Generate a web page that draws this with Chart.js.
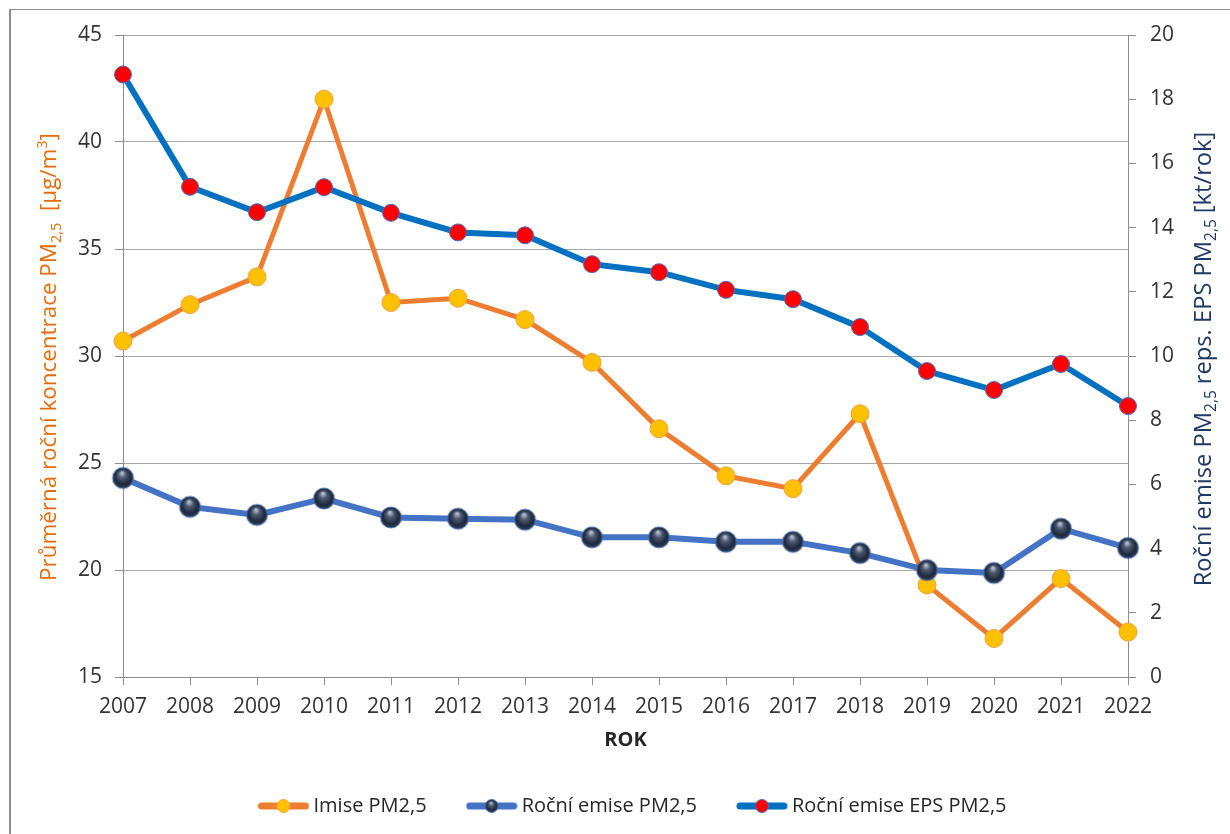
<!DOCTYPE html>
<html lang="cs">
<head>
<meta charset="utf-8">
<title>PM2,5 – imise a emise</title>
<script src="https://cdn.jsdelivr.net/npm/chart.js@4"></script>
<style>
  html, body { margin: 0; padding: 0; background: #fff; }
  #wrap { position: relative; width: 1230px; height: 834px; overflow: hidden; }
  #frame {
    position: absolute; left: 9px; top: 9px; right: -2px; bottom: -2px;
    border-left: 2px solid #8c8c8c; border-top: 1px solid #8c8c8c;
    pointer-events: none;
  }
  canvas { position: absolute; left: 0; top: 0; }
</style>
</head>
<body>
<div id="wrap">
  <canvas id="pmChart" width="1230" height="834"></canvas>
  <div id="frame"></div>
</div>
<script>
const years = ['2007', '2008', '2009', '2010', '2011', '2012', '2013', '2014',
               '2015', '2016', '2017', '2018', '2019', '2020', '2021', '2022'];

// µg/m3, left axis
const imisePM25 = [30.7, 32.4, 33.7, 42.0, 32.5, 32.7, 31.7, 29.7,
                   26.6, 24.4, 23.8, 27.3, 19.3, 16.8, 19.6, 17.1];
// kt/rok, right axis
const emisePM25 = [6.2, 5.3, 5.05, 5.56, 4.97, 4.93, 4.9, 4.35,
                   4.35, 4.21, 4.21, 3.86, 3.33, 3.24, 4.62, 4.02];
const emiseEPS = [18.77, 15.27, 14.48, 15.26, 14.46, 13.85, 13.76, 12.86,
                  12.61, 12.06, 11.77, 10.9, 9.53, 8.94, 9.75, 8.44];

const leftRange = [15, 45, 5];
const rightRange = [0, 20, 2];

const seriesNames = ['Imise PM2,5', 'Roční emise PM2,5', 'Roční emise EPS PM2,5'];

const leftTitle = [['Průměrná roční koncentrace PM', ''], ['2,5', 'sub'], ['  [µg/m', ''], ['3', 'sup'], [']', '']];
const rightTitle = [['Roční emise PM', ''], ['2,5', 'sub'], [' reps. EPS PM', ''], ['2,5', 'sub'], [' [kt/rok]', '']];

Chart.defaults.font.family = '"Open Sans", sans-serif';

// dark glossy ball used as marker for yearly emissions
function drawBall(g, x, y, r) {
  const grad = g.createRadialGradient(x - r * 0.1, y - r * 0.5, r * 0.08, x, y, r);
  grad.addColorStop(0, '#b4bfcf');
  grad.addColorStop(0.3, '#4d5b73');
  grad.addColorStop(0.75, '#1e283a');
  grad.addColorStop(1, '#2f4263');
  g.beginPath();
  g.arc(x, y, r, 0, Math.PI * 2);
  g.fillStyle = grad;
  g.fill();
  g.lineWidth = 1;
  g.strokeStyle = '#4f74b5';
  g.stroke();
}

function makeBall(r) {
  const c = document.createElement('canvas');
  const size = Math.ceil(r * 2 + 4);
  c.width = size;
  c.height = size;
  drawBall(c.getContext('2d'), size / 2, size / 2, r);
  return c;
}

function makeLegendIcon(lineColor, marker) {
  const c = document.createElement('canvas');
  c.width = 52;
  c.height = 16;
  const g = c.getContext('2d');
  g.strokeStyle = lineColor;
  g.lineWidth = 7;
  g.lineCap = 'round';
  g.beginPath();
  g.moveTo(4, 8);
  g.lineTo(48, 8);
  g.stroke();
  marker(g, 26, 8);
  return c;
}

function dot(fill, stroke) {
  return (g, x, y) => {
    g.beginPath();
    g.arc(x, y, 6.5, 0, Math.PI * 2);
    g.fillStyle = fill;
    g.fill();
    g.lineWidth = 1;
    g.strokeStyle = stroke;
    g.stroke();
  };
}

const ball = makeBall(10.5);
const legendIcons = [
  makeLegendIcon('#ED7D31', dot('#FFC000', '#F0A040')),
  makeLegendIcon('#4472C4', (g, x, y) => drawBall(g, x, y, 6.5)),
  makeLegendIcon('#0070C0', dot('#FF0000', '#4472C4'))
];

// text with sub/superscripts, rotated to read bottom-up, sized to a given length
function drawRotated(ctx, parts, cx, cy, color, length) {
  const measure = size => {
    let total = 0;
    const widths = parts.map(([t, k]) => {
      ctx.font = '500 ' + (k ? size * 0.65 : size) + 'px "Open Sans"';
      const w = ctx.measureText(t).width;
      total += w;
      return w;
    });
    return { total, widths };
  };
  ctx.save();
  const size = 20 * length / measure(20).total;
  const { total, widths } = measure(size);
  ctx.translate(cx, cy);
  ctx.rotate(-Math.PI / 2);
  ctx.fillStyle = color;
  ctx.textAlign = 'left';
  ctx.textBaseline = 'alphabetic';
  let x = -total / 2;
  const base = size * 0.36;
  parts.forEach(([t, k], i) => {
    ctx.font = '500 ' + (k ? size * 0.65 : size) + 'px "Open Sans"';
    const dy = k === 'sub' ? size * 0.22 : k === 'sup' ? -size * 0.42 : 0;
    ctx.fillText(t, x, base + dy);
    x += widths[i];
  });
  ctx.restore();
}

const axisTitles = {
  id: 'axisTitles',
  afterDraw(chart) {
    const ctx = chart.ctx;
    const a = chart.chartArea;
    drawRotated(ctx, leftTitle, 48, 357, '#E46C0A', 448);
    drawRotated(ctx, rightTitle, 1202, 359, '#1F3864', 455);
    ctx.save();
    ctx.font = 'bold 20px "Open Sans"';
    ctx.fillStyle = '#262626';
    ctx.textAlign = 'center';
    ctx.textBaseline = 'middle';
    ctx.fillText('ROK', (a.left + a.right) / 2, 740);
    ctx.restore();
  }
};

const axisLine = '#8c8c8c';
const tickFont = { size: 21 };

const ctx = document.getElementById('pmChart').getContext('2d');
const chart = new Chart(ctx, {
    type: 'line',
    data: {
        labels: years,
        datasets: [{
            label: seriesNames[0],
            data: imisePM25,
            yAxisID: 'y',
            borderColor: '#ED7D31',
            borderWidth: 5,
            pointRadius: 9,
            pointBackgroundColor: '#FFC000',
            pointBorderColor: '#F0A040',
            pointBorderWidth: 1,
            clip: false,
            order: 3
        }, {
            label: seriesNames[1],
            data: emisePM25,
            yAxisID: 'y1',
            borderColor: '#4472C4',
            borderWidth: 6,
            pointStyle: ball,
            pointRadius: 11,
            clip: false,
            order: 2
        }, {
            label: seriesNames[2],
            data: emiseEPS,
            yAxisID: 'y1',
            borderColor: '#0070C0',
            borderWidth: 6,
            pointRadius: 8.5,
            pointBackgroundColor: '#FF0000',
            pointBorderColor: '#4472C4',
            pointBorderWidth: 1,
            clip: false,
            order: 1
        }]
    },
    options: {
        responsive: false,
        animation: false,
        devicePixelRatio: 1,
        layout: { padding: { top: 35, left: 40, right: 0, bottom: 8 } },
        plugins: {
            tooltip: { enabled: false },
            legend: {
                position: 'bottom',
                labels: {
                    font: { size: 20 },
                    color: '#262626',
                    usePointStyle: true,
                    pointStyleWidth: 40,
                    padding: 45,
                    sort: (a, b) => a.datasetIndex - b.datasetIndex,
                    generateLabels(chart) {
                        const items = Chart.defaults.plugins.legend.labels.generateLabels(chart);
                        items.forEach(it => { it.pointStyle = legendIcons[it.datasetIndex]; });
                        return items;
                    }
                }
            }
        },
        scales: {
            x: {
                offset: false,
                grid: { drawOnChartArea: false, tickLength: 8, tickColor: axisLine },
                border: { color: axisLine },
                ticks: { font: tickFont, color: '#333', padding: 9, maxRotation: 0, autoSkip: false },
                afterFit(scale) {
                    scale.height = 834 - 8 - 677 - scale.chart.legend.height;
                }
            },
            y: {
                position: 'left',
                min: leftRange[0],
                max: leftRange[1],
                ticks: { stepSize: leftRange[2], font: tickFont, color: '#333', padding: 13 },
                grid: { color: '#a6a6a6', tickColor: axisLine, tickLength: 8 },
                border: { color: axisLine },
                afterFit(scale) { scale.width = 83; }
            },
            y1: {
                position: 'right',
                min: rightRange[0],
                max: rightRange[1],
                ticks: { stepSize: rightRange[2], font: tickFont, color: '#333', padding: 14 },
                grid: { drawOnChartArea: false, tickColor: axisLine, tickLength: 8 },
                border: { color: axisLine },
                afterFit(scale) { scale.width = 102; }
            }
        }
    },
    plugins: [axisTitles]
});
</script>
</body>
</html>
